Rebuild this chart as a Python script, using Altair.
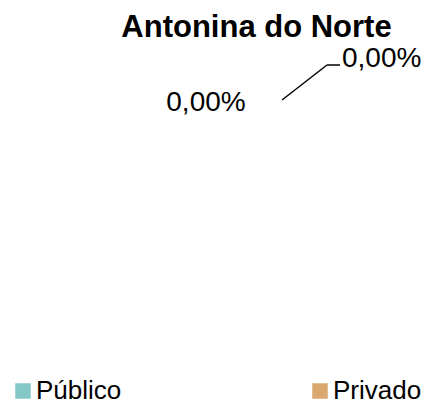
import altair as alt
import pandas as pd

# data
categorias = ["Público", "Privado"]
valores = [0, 0]
cores = ["#86C8C9", "#D9A870"]
titulo = "Antonina do Norte"

total = sum(valores)
rotulos = [
    (f"{(v / total * 100) if total else 0:.2f}".replace(".", ",") + "%")
    for v in valores
]
df = pd.DataFrame({"categoria": categorias, "valor": valores, "rotulo": rotulos})

FONT = "Liberation Sans"

base = alt.Chart(df)

color = alt.Color(
    "categoria:N",
    scale=alt.Scale(domain=categorias, range=cores),
    sort=categorias,
    legend=alt.Legend(
        title=None,
        orient="none",
        legendX=2,
        legendY=370,
        direction="horizontal",
        symbolType="square",
        symbolSize=240,
        symbolStrokeWidth=0,
        symbolOpacity=1,
        labelFont=FONT,
        labelFontSize=26,
        labelColor="black",
        labelOffset=0,
        columnPadding=185,
    ),
)

pie = base.mark_arc(stroke=None).encode(
    theta=alt.Theta("valor:Q", stack=True),
    color=color,
)

lbl_left = (
    base.transform_filter(alt.datum.categoria == categorias[0])
    .mark_text(font=FONT, fontSize=28, color="black", align="center", baseline="alphabetic")
    .encode(text="rotulo:N", x=alt.value(198), y=alt.value(103))
)
lbl_right = (
    base.transform_filter(alt.datum.categoria == categorias[1])
    .mark_text(font=FONT, fontSize=28, color="black", align="left", baseline="alphabetic")
    .encode(text="rotulo:N", x=alt.value(334), y=alt.value(59))
)

leader1 = base.transform_filter(alt.datum.categoria == categorias[1]).mark_rule(
    color="black", strokeWidth=1.5
).encode(x=alt.value(274), y=alt.value(92), x2=alt.value(319), y2=alt.value(57))
leader2 = base.transform_filter(alt.datum.categoria == categorias[1]).mark_rule(
    color="black", strokeWidth=1.5
).encode(x=alt.value(319), y=alt.value(57), x2=alt.value(332), y2=alt.value(57))

chart = (
    alt.layer(pie, leader1, leader2, lbl_left, lbl_right)
    .properties(
        width=415,
        height=398,
        autosize=alt.AutoSizeParams(type="none"),
        padding=0,
        background="white",
        title=alt.TitleParams(
            text=titulo,
            font=FONT,
            fontSize=31,
            fontWeight="bold",
            color="black",
            anchor="middle",
            align="center",
            frame="group",
            dx=41,
            offset=-35.5,
        ),
    )
    .configure_view(stroke=None)
)

chart.save("out.html", embed_options={"renderer": "svg", "actions": False})
